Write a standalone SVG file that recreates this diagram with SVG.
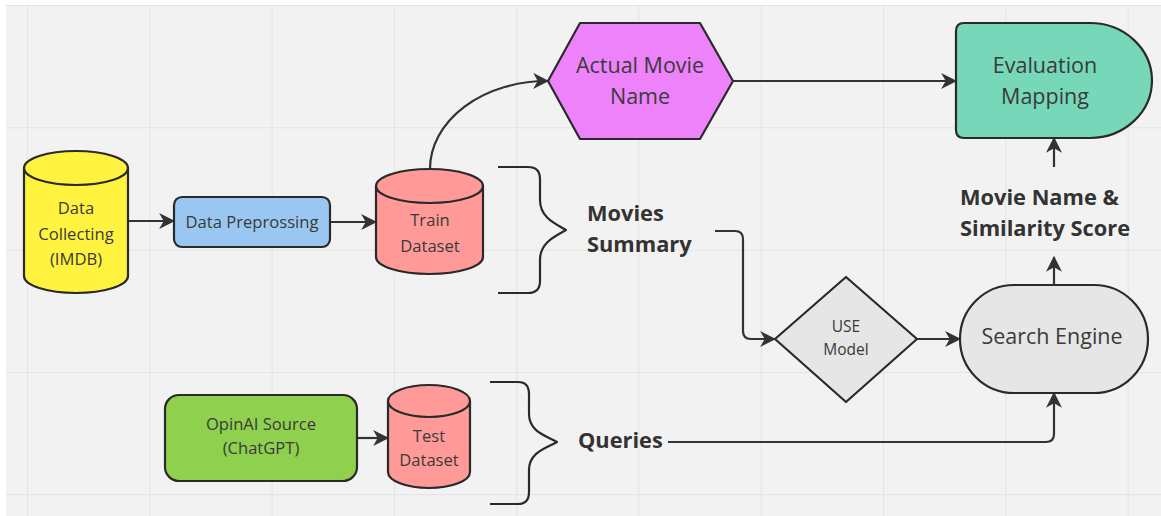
<svg xmlns="http://www.w3.org/2000/svg" width="1161" height="516" viewBox="0 0 1161 516">
<defs>
<marker id="ah" markerUnits="userSpaceOnUse" markerWidth="16" markerHeight="16" viewBox="0 0 14 14" refX="13" refY="7" orient="auto">
<path d="M0,0 L14,7 L0,14 L4,7 Z" fill="#333"/>
</marker>
<pattern id="grid" x="27" y="5" width="122.3" height="122.3" patternUnits="userSpaceOnUse">
<path d="M0,0 V122.3 M0,0 H122.3" fill="none" stroke="#e3e3e3" stroke-width="2"/>
</pattern>
</defs>
<style>
.shape{stroke:#2a2a2a;stroke-width:2.2;stroke-linejoin:round}
.t{font-family:"Open Sans","Liberation Sans",sans-serif;fill:#3a3a3a;text-anchor:middle}
.s{font-size:16.6px}
.l{font-size:21.5px}
.b{font-family:"Open Sans","Liberation Sans",sans-serif;fill:#333;font-weight:bold;font-size:21.8px}
.c{fill:none;stroke:#333;stroke-width:2.2;marker-end:url(#ah)}
.br{fill:none;stroke:#2a2a2a;stroke-width:2.2;stroke-linejoin:round}
</style>
<rect x="0" y="0" width="1161" height="516" fill="#ffffff"/>
<rect x="6" y="5" width="1155" height="511" fill="#f2f2f2"/>
<rect x="6" y="5" width="1155" height="511" fill="url(#grid)"/>

<g id="connectors">
<path class="c" d="M128,221 L174,221"/>
<path class="c" d="M330,222 L376,222"/>
<path class="c" d="M430,169 A117,88 0 0 1 548,81"/>
<path class="c" d="M733,81 L956,81"/>
<path class="c" d="M1054,167 L1054,138"/>
<path class="c" d="M715,231 L735,231 Q743,231 743,239 L743,331 Q743,339 751,339 L775,339"/>
<path class="c" d="M917,339 L960,339"/>
<path class="c" d="M1054,285 L1054,257"/>
<path class="c" d="M668,442 L1046,442 Q1054,442 1054,434 L1054,393"/>
<path class="c" d="M357,438 L388,438"/>
</g>

<g id="data-collecting">
<path class="shape" fill="#fff33f" d="M24,168 L24,276 A52,17 0 0 0 128,276 L128,168 Z"/>
<ellipse class="shape" fill="#fff33f" cx="76" cy="168" rx="52" ry="17"/>
<text class="t s" x="76" y="214">Data</text>
<text class="t s" x="76" y="240">Collecting</text>
<text class="t s" x="76" y="265">(IMDB)</text>
</g>

<g id="data-preprossing">
<rect class="shape" fill="#99c7f1" x="174" y="197" width="156" height="50" rx="8"/>
<text class="t s" x="252" y="228">Data Preprossing</text>
</g>

<g id="train-dataset">
<path class="shape" fill="#ff9a98" d="M376,186 L376,257 A53.5,17 0 0 0 483,257 L483,186 Z"/>
<ellipse class="shape" fill="#ff9a98" cx="429.5" cy="186" rx="53.5" ry="17"/>
<text class="t s" x="430" y="226">Train</text>
<text class="t s" x="430" y="252">Dataset</text>
</g>

<g id="actual-movie-name">
<polygon class="shape" fill="#ee82fb" points="548,81 580,23 700,23 733,81 700,139 580,139"/>
<text class="t l" x="640" y="73">Actual Movie</text>
<text class="t l" x="640" y="104">Name</text>
</g>

<g id="evaluation-mapping">
<path class="shape" fill="#76d7b9" d="M964,23 L1090,23 A62,57.5 0 0 1 1090,138 L964,138 Q956,138 956,130 L956,31 Q956,23 964,23 Z"/>
<text class="t l" x="1045" y="73">Evaluation</text>
<text class="t l" x="1045" y="104">Mapping</text>
</g>

<g id="movie-name-similarity">
<text class="b" x="960" y="205">Movie Name &amp;</text>
<text class="b" x="960" y="236">Similarity Score</text>
</g>

<g id="movies-summary">
<path class="br" d="M498,167 L528,167 Q540,167 540,179 L540,200 C540,218 556,224 566,230 C556,236 540,242 540,260 L540,281 Q540,293 528,293 L498,293"/>
<text class="b" x="587" y="221">Movies</text>
<text class="b" x="587" y="252">Summary</text>
</g>

<g id="use-model">
<polygon class="shape" fill="#e6e6e6" points="775,339 846,277 917,339 846,402"/>
<text class="t" style="font-size:15.5px" x="846" y="332">USE</text>
<text class="t" style="font-size:15.5px" x="846" y="355">Model</text>
</g>

<g id="search-engine">
<rect class="shape" fill="#e6e6e6" x="960" y="285" width="188" height="108" rx="54"/>
<text class="t l" x="1052" y="344">Search Engine</text>
</g>

<g id="opinai-source">
<rect class="shape" fill="#8fd14f" x="165" y="395" width="192" height="86" rx="14"/>
<text class="t s" x="261" y="430">OpinAI Source</text>
<text class="t s" x="261" y="454">(ChatGPT)</text>
</g>

<g id="test-dataset">
<path class="shape" fill="#ff9a98" d="M388,401 L388,472 A41,16 0 0 0 470,472 L470,401 Z"/>
<ellipse class="shape" fill="#ff9a98" cx="429" cy="401" rx="41" ry="16"/>
<text class="t s" x="429" y="442">Test</text>
<text class="t s" x="429" y="466">Dataset</text>
</g>

<g id="queries">
<path class="br" d="M490,382 L518,382 Q529,382 529,394 L529,414 C529,432 547,436 557,442 C547,448 529,452 529,470 L529,492 Q529,504 518,504 L490,504"/>
<text class="b" x="578" y="448">Queries</text>
</g>
</svg>
